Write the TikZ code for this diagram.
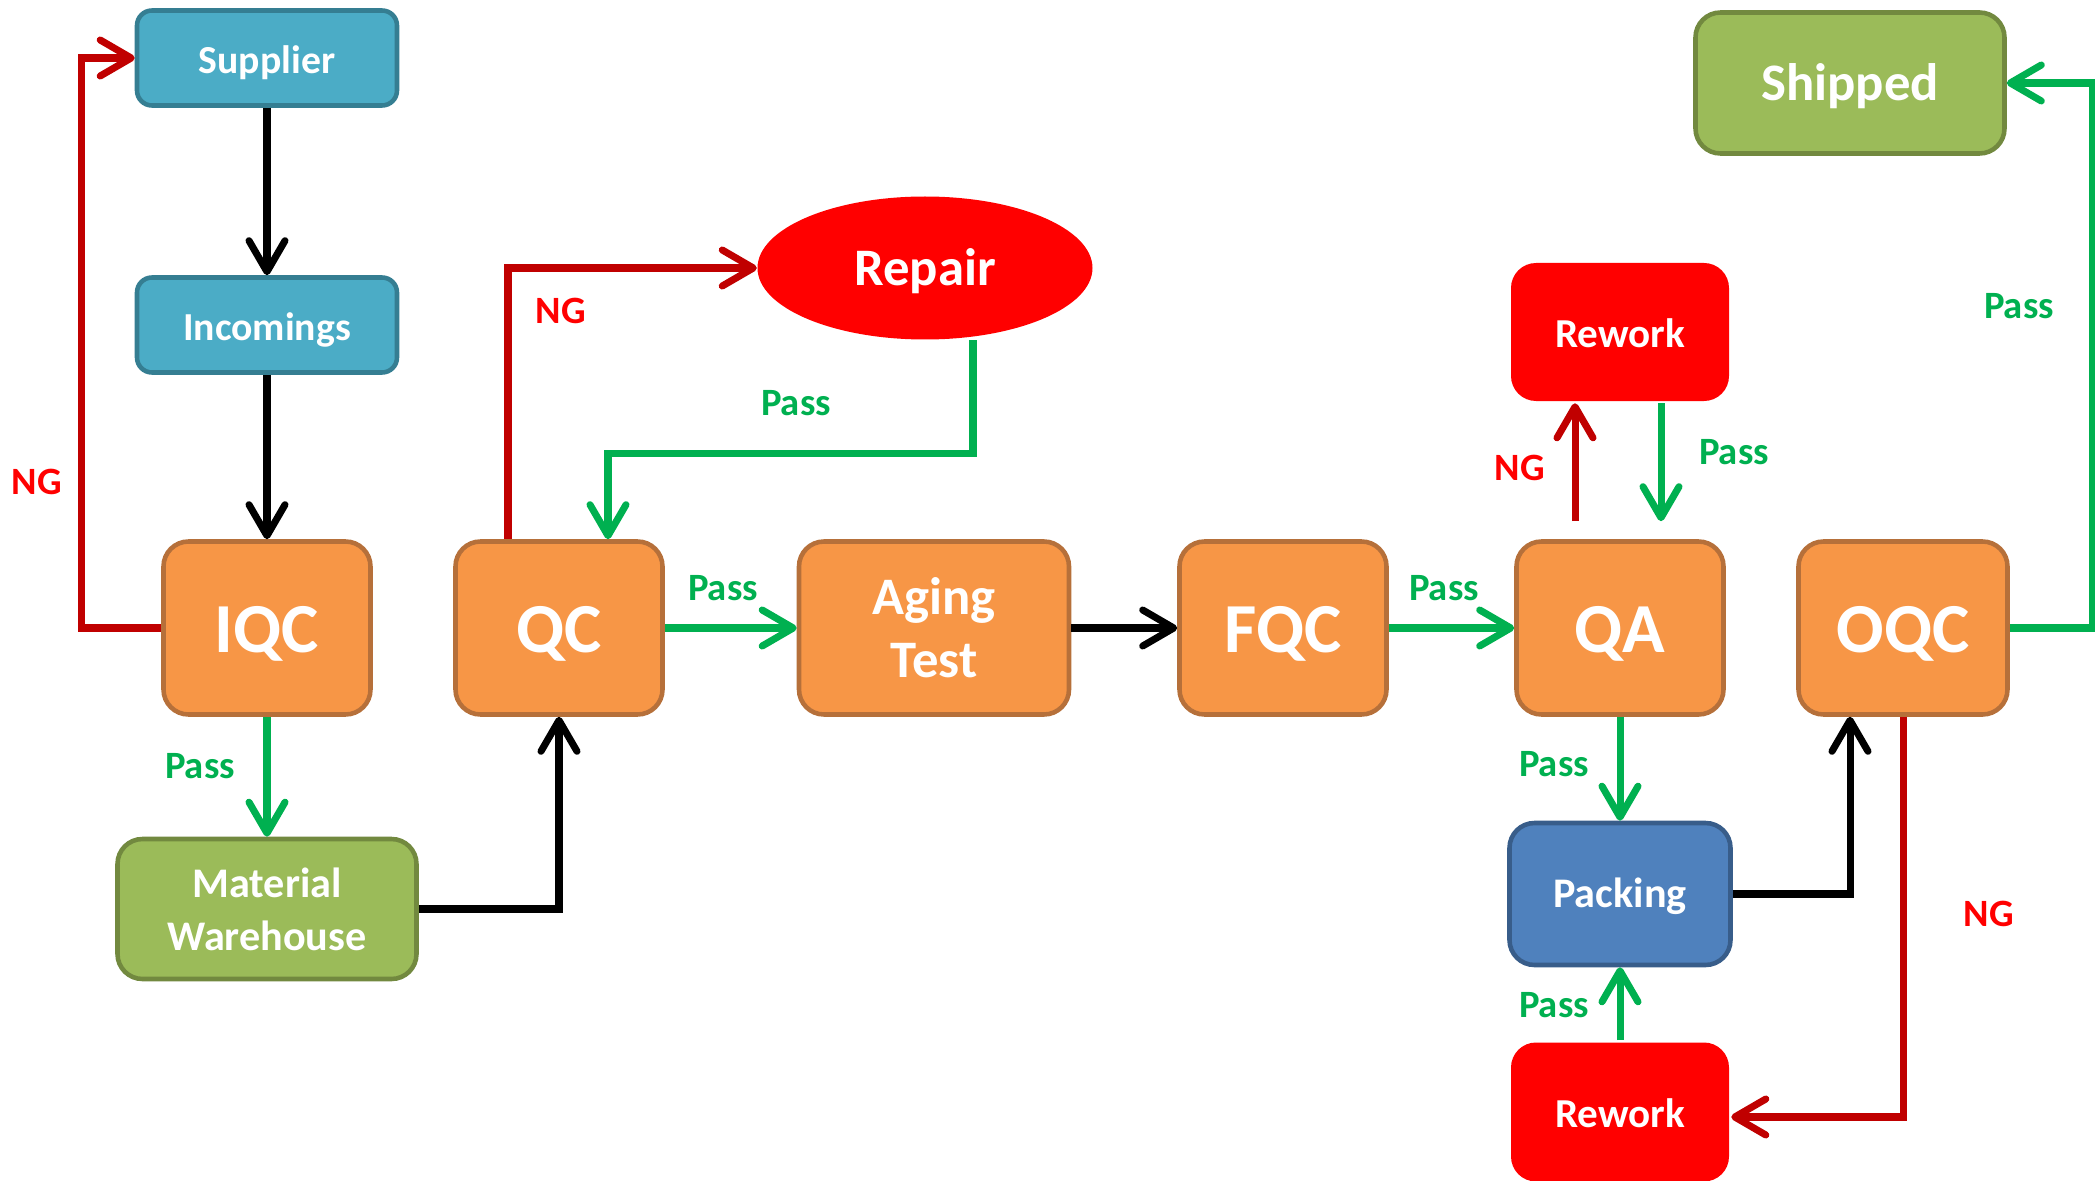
\documentclass[tikz,border=0pt]{standalone}
\usepackage{fontspec}
\setmainfont{Carlito}
\usetikzlibrary{arrows.meta,shapes.geometric}

\definecolor{orangefill}{HTML}{F79646}
\definecolor{orangeline}{HTML}{B6703A}
\definecolor{bluefill}{HTML}{4BACC6}
\definecolor{blueline}{HTML}{357E92}
\definecolor{greenfill}{HTML}{9BBB59}
\definecolor{greenline}{HTML}{72893F}
\definecolor{packfill}{HTML}{4F81BD}
\definecolor{packline}{HTML}{385D8A}
\definecolor{passgreen}{HTML}{00B050}
\definecolor{ngred}{HTML}{C00000}

\tikzset{
  box/.style={draw, line width=1.3pt, rounded corners=0.25cm, text=white,
    font=\bfseries, align=center, inner sep=0pt},
  stage/.style={box, fill=orangefill, draw=orangeline, minimum width=2.07cm,
    minimum height=1.73cm, text height=16.2pt, text depth=2pt,
    font=\bfseries\fontsize{20}{22}\selectfont},
  store/.style={box, fill=bluefill, draw=blueline, rounded corners=0.15cm,
    minimum width=2.6cm, minimum height=0.95cm, text height=10.3pt, text depth=1.5pt,
    font=\bfseries\fontsize{11.3}{13}\selectfont},
  fixbox/.style={box, fill=red, draw=none, minimum width=2.18cm,
    minimum height=1.38cm, text height=10.3pt, text depth=1.5pt,
    font=\bfseries\fontsize{11.7}{13}\selectfont},
  flow/.style={line width=2pt, -{Straight Barb[length=3.1mm,width=3.6mm,round]}},
  blk/.style={flow, black},
  pass/.style={flow, passgreen},
  ng/.style={flow, ngred},
  passlbl/.style={text=passgreen, font=\bfseries\fontsize{11}{13}\selectfont},
  nglbl/.style={text=red, font=\bfseries\fontsize{11}{13}\selectfont}
}

\begin{document}
\begin{tikzpicture}
\useasboundingbox (0,0) rectangle (20.95,-11.81);
% boxes
\node[store] (sup) at (2.67,-0.58) {Supplier};
\node[store] (inc) at (2.67,-3.25) {Incomings};
\node[stage] (iqc) at (2.67,-6.28) {IQC};
\node[stage] (qc) at (5.59,-6.28) {QC};
\node[stage, minimum width=2.70cm, text height=, text depth=,
  font=\bfseries\fontsize{15}{18}\selectfont] (aging) at (9.34,-6.28) {Aging\\Test};
\node[stage] (fqc) at (12.83,-6.28) {FQC};
\node[stage] (qa) at (16.20,-6.28) {QA};
\node[stage, minimum width=2.09cm] (oqc) at (19.03,-6.28) {OQC};
\node[box, fill=greenfill, draw=greenline, minimum width=2.99cm, minimum height=1.40cm,
  font=\bfseries\fontsize{12}{15}\selectfont] (mat) at (2.67,-9.09) {Material\\Warehouse};
\node[ellipse, fill=red, text=white, minimum width=3.35cm, minimum height=1.43cm,
  inner sep=0pt, text height=11.8pt, text depth=2pt,
  font=\bfseries\fontsize{15}{18}\selectfont] (repair) at (9.25,-2.68) {Repair};
\node[fixbox] (rwtop) at (16.20,-3.32) {Rework};
\node[box, fill=packfill, draw=packline, minimum width=2.21cm, minimum height=1.42cm,
  text height=9pt, text depth=1.5pt,
  font=\bfseries\fontsize{12}{14}\selectfont] (pack) at (16.20,-8.94) {Packing};
\node[fixbox, minimum height=1.39cm] (rwbot) at (16.20,-11.12) {Rework};
\node[box, fill=greenfill, draw=greenline, minimum width=3.09cm, minimum height=1.41cm,
  text height=11.8pt, text depth=2pt,
  font=\bfseries\fontsize{15}{18}\selectfont] (ship) at (18.50,-0.83) {Shipped};
% connectors
\draw[blk] (sup) -- (inc);
\draw[blk] (inc) -- (iqc);
\draw[ng] (iqc.west) -- ++(-0.8,0) |- (sup.west);
\draw[pass] (iqc) -- (mat);
\draw[blk] (mat.east) -| (qc.south);
\draw[ng] ([xshift=-5.1mm]qc.north) |- (repair.west);
\draw[pass] ([xshift=4.8mm]repair.south) -- ++(0,-1.13) -| ([xshift=4.9mm]qc.north);
\draw[pass] (qc) -- (aging);
\draw[blk] (aging) -- (fqc);
\draw[pass] (fqc) -- (qa);
\draw[ng] ([shift={(-4.5mm,1.8mm)}]qa.north) -- ([xshift=-4.5mm]rwtop.south);
\draw[pass] ([xshift=4.1mm]rwtop.south) -- ([shift={(4.1mm,1.8mm)}]qa.north);
\draw[pass] (qa) -- (pack);
\draw[pass] (rwbot) -- (pack);
\draw[blk] (pack.east) -| ([xshift=-5.3mm]oqc.south);
\draw[ng] (oqc.south) |- ([yshift=-0.5mm]rwbot.east);
\draw[pass] (oqc.east) -- ++(0.83,0) |- (ship.east);
% labels
\node[nglbl] (ng1) at (0.37,-4.82) {NG};
\node[passlbl] (p1) at (2.00,-7.66) {Pass};
\node[nglbl] (ng2) at (5.61,-3.11) {NG};
\node[passlbl] (p2) at (7.96,-4.03) {Pass};
\node[passlbl] (p3) at (7.23,-5.88) {Pass};
\node[passlbl] (p4) at (14.44,-5.88) {Pass};
\node[nglbl] (ng3) at (15.20,-4.68) {NG};
\node[passlbl] (p5) at (17.34,-4.52) {Pass};
\node[passlbl] (p6) at (15.54,-7.64) {Pass};
\node[passlbl] (p7) at (15.54,-10.05) {Pass};
\node[nglbl] (ng4) at (19.89,-9.14) {NG};
\node[passlbl] (p8) at (20.19,-3.06) {Pass};
\end{tikzpicture}
\end{document}
